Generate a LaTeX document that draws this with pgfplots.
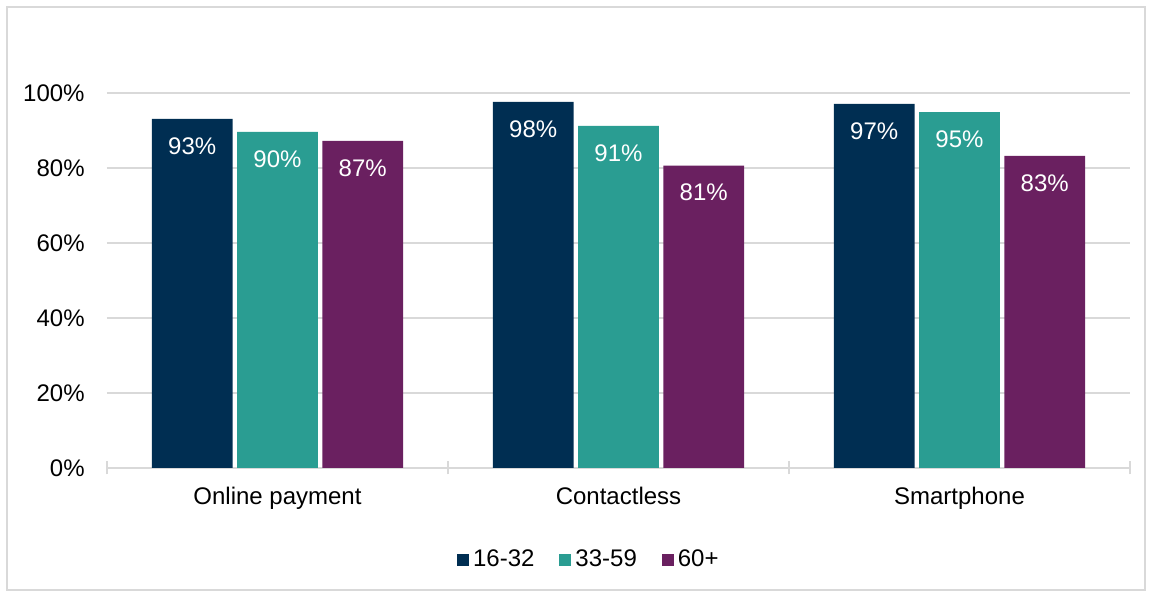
\documentclass[border=0pt]{standalone}
\usepackage{pgfplots}
\pgfplotsset{compat=1.18}
\usepackage{fontspec}
\setmainfont{Liberation Sans}
\definecolor{cnavy}{RGB}{0,46,82}
\definecolor{cteal}{RGB}{42,157,146}
\definecolor{cpurple}{RGB}{106,32,96}
\definecolor{cgrid}{RGB}{217,217,217}
\begin{document}
\fontsize{12}{14}\selectfont
\begin{tikzpicture}
\useasboundingbox (0,0) rectangle (576pt,296pt);
\draw[cgrid, line width=1pt] (3.5pt,1pt) rectangle (572.5pt,292.5pt);
\begin{axis}[
 at={(53.5pt,62pt)}, anchor=south west,
 scale only axis, width=511.5pt, height=187.5pt,
 xmin=-0.5, xmax=2.5, ymin=0, ymax=100,
 ybar, bar width=0.2375,
 /pgf/number format/assume math mode=true,
 axis x line*=bottom, axis y line*=left,
 y axis line style={draw=none},
 x axis line style={draw=cgrid, line width=0.75pt, -},
 xtick={0,1,2}, xticklabels={Online payment, Contactless, Smartphone},
 minor xtick={-0.5,0.5,1.5,2.5},
 ytick={0,20,...,100}, yticklabels={0\%,20\%,40\%,60\%,80\%,100\%},
 major tick length=0pt, minor tick length=6.5pt, tick align=center,
 minor tick style={draw=cgrid, line width=0.75pt},
 major tick style={draw=none},
 ymajorgrids, grid style={draw=cgrid, line width=0.75pt},
 xticklabel style={yshift=-5.5pt}, yticklabel style={xshift=-7pt},
 nodes near coords={\pgfmathprintnumber[fixed,precision=0,assume math mode=true]{\pgfplotspointmeta}\%},
 every node near coord/.append style={anchor=north, yshift=-5pt, text=white},
 legend image code/.code={\fill[#1] (0pt,-3pt) rectangle (6pt,3pt);},
 legend style={at={(0.472,-0.246)}, anchor=center, draw=none, fill=none,
   legend columns=3, /tikz/every even column/.append style={column sep=10.5pt},
   nodes={inner xsep=2pt}},
]
\addplot[fill=cnavy, draw=none, bar shift=-0.25] coordinates {(0,93.1) (1,97.6) (2,97.1)};
\addplot[fill=cteal, draw=none, bar shift=0] coordinates {(0,89.6) (1,91.2) (2,94.9)};
\addplot[fill=cpurple, draw=none, bar shift=0.25] coordinates {(0,87.2) (1,80.6) (2,83.2)};
\legend{16-32,33-59,60+}
\end{axis}
\end{tikzpicture}
\end{document}
